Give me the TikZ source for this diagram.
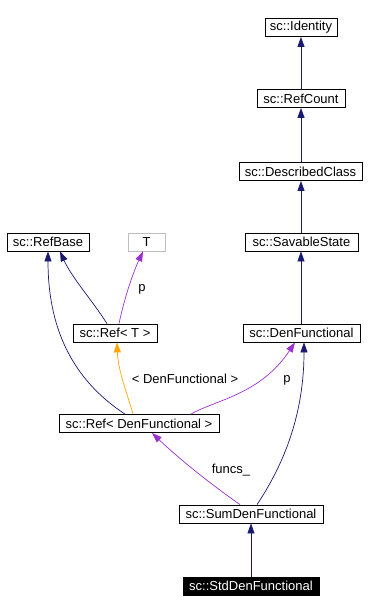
\documentclass[tikz,border=0pt]{standalone}
\usepackage{fontspec}
\setmainfont{Liberation Sans}
\usetikzlibrary{arrows.meta}
\definecolor{navyedge}{HTML}{191970}
\definecolor{purpedge}{HTML}{9A32CD}
\definecolor{orangeedge}{HTML}{FFA500}
\definecolor{grayborder}{HTML}{BFBFBF}
\tikzset{
  cls/.style={draw=black, line width=0.8pt, inner sep=0pt, minimum height=18pt, font=\fontsize{13}{15}\selectfont, anchor=center},
  inh/.style={draw=navyedge, line width=0.7pt, -{Triangle[length=10pt,width=7pt]}},
  use/.style={draw=purpedge, line width=0.7pt, -{Triangle[length=10pt,width=7pt]}},
  tmpl/.style={draw=orangeedge, line width=0.7pt, -{Triangle[length=10pt,width=7pt]}},
  elabel/.style={font=\fontsize{13}{15}\selectfont, inner sep=0pt}
}
\begin{document}
\begin{tikzpicture}[x=1pt,y=-1pt]
\useasboundingbox (0,0) rectangle (369,614);
\node[cls, minimum width=72pt] (identity) at (301,27.5) {sc::Identity};
\node[cls, minimum width=88pt] (refcount) at (301,98.5) {sc::RefCount};
\node[cls, minimum width=123pt] (described) at (300.5,171.5) {sc::DescribedClass};
\node[cls, minimum width=113pt] (savable) at (301.5,242) {sc::SavableState};
\node[cls, minimum width=82pt] (refbase) at (48,242) {sc::RefBase};
\node[cls, draw=grayborder, minimum width=37pt] (T) at (146.5,242) {T};
\node[cls, minimum width=84pt] (reft) at (115,333) {sc::Ref< T >};
\node[cls, minimum width=117pt] (denf) at (301.5,333) {sc::DenFunctional};
\node[cls, minimum width=160pt] (refdenf) at (139,423.5) {sc::Ref< DenFunctional >};
\node[cls, minimum width=144pt] (sumden) at (251,514) {sc::SumDenFunctional};
\node[cls, fill=black, text=white, minimum width=136pt] (stdden) at (251,586) {sc::StdDenFunctional};

\draw[inh] (refcount) -- (identity);
\draw[inh] (described.north -| refcount) -- (refcount);
\draw[inh] (savable.north -| refcount) -- (described.south -| refcount);
\draw[inh] (denf.north -| refcount) -- (savable.south -| refcount);
\draw[inh] ([xshift=-8pt]reft.north) .. controls (92,300) and (72,278) .. ([xshift=12pt]refbase.south);
\draw[inh] ([xshift=-14pt]refdenf.north) .. controls (70,378) and (48,325) .. (refbase.south);
\draw[use] ([xshift=4pt]reft.north) .. controls (124,300) and (132,275) .. ([xshift=-3.5pt]T.south);
\draw[tmpl] ([xshift=-6pt]refdenf.north) .. controls (126,390) and (118,370) .. ([xshift=2pt]reft.south);
\draw[use] ([xshift=52pt]refdenf.north) .. controls (215,400) and (260,395) .. ([xshift=-6.5pt]denf.south);
\draw[inh] ([xshift=6pt]sumden.north) .. controls (280,470) and (304,420) .. ([xshift=2.5pt]denf.south);
\draw[use] ([xshift=-11pt]sumden.north) .. controls (205,480) and (175,455) .. ([xshift=13pt]refdenf.south);
\draw[inh] (stdden) -- (sumden);

\node[elabel] (lp1) at (142,289) {p};
\node[elabel] (lden) at (185,379) {< DenFunctional >};
\node[elabel] (lp2) at (287,380) {p};
\node[elabel] (lfuncs) at (231,470) {funcs\_};
\end{tikzpicture}
\end{document}
